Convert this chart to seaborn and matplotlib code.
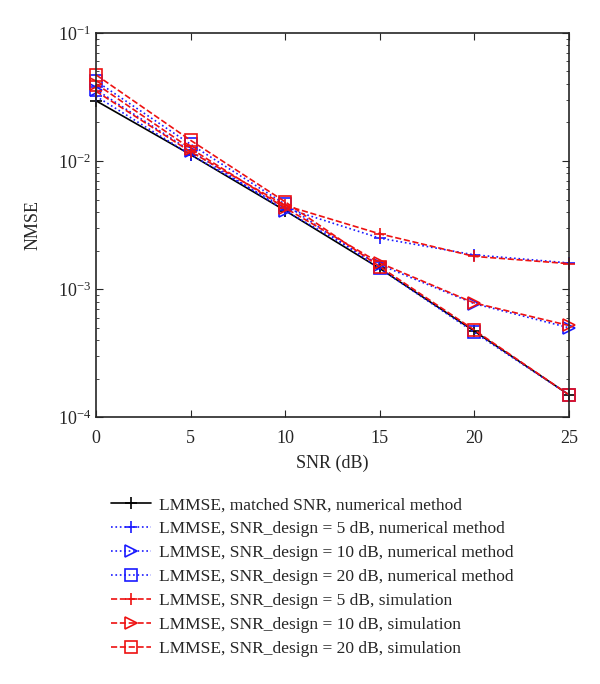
import pandas as pd
import matplotlib
matplotlib.use('Agg')
import matplotlib.pyplot as plt
import seaborn as sns

# SNR points (dB)
snr = [0, 5, 10, 15, 20, 25]

# NMSE values
matched = [0.0295, 0.0112, 0.0041, 0.00145, 0.00047, 0.00015]
num_5db = [0.032, 0.0112, 0.0043, 0.0025, 0.00185, 0.0016]
num_10db = [0.036, 0.0120, 0.0041, 0.00155, 0.00077, 0.00050]
num_20db = [0.042, 0.0135, 0.0046, 0.00145, 0.00046, 0.00015]
sim_5db = [0.035, 0.0118, 0.0045, 0.0027, 0.0018, 0.00158]
sim_10db = [0.040, 0.0125, 0.0043, 0.0016, 0.00078, 0.00052]
sim_20db = [0.047, 0.0145, 0.0048, 0.0015, 0.00048, 0.00015]

labels = [
    'LMMSE, matched SNR, numerical method',
    'LMMSE, SNR_design = 5 dB, numerical method',
    'LMMSE, SNR_design = 10 dB, numerical method',
    'LMMSE, SNR_design = 20 dB, numerical method',
    'LMMSE, SNR_design = 5 dB, simulation',
    'LMMSE, SNR_design = 10 dB, simulation',
    'LMMSE, SNR_design = 20 dB, simulation',
]
series = [matched, num_5db, num_10db, num_20db, sim_5db, sim_10db, sim_20db]

# style per series: color, linestyle, marker
styles = [
    ('black', '-', '+'),
    ('#1a1aff', ':', '+'),
    ('#1a1aff', ':', '>'),
    ('#1a1aff', ':', 's'),
    ('#ee1111', '--', '+'),
    ('#ee1111', '--', '>'),
    ('#ee1111', '--', 's'),
]

sns.set_style('ticks')
plt.rcParams['font.family'] = ['Liberation Serif', 'DejaVu Serif']
plt.rcParams['mathtext.fontset'] = 'stix'

fig = plt.figure(figsize=(6, 6.84), dpi=100)
ax = fig.add_axes([0.16, 0.39, 0.788, 0.562])

for lab, vals, (c, ls, m) in zip(labels, series, styles):
    df = pd.DataFrame({'SNR': snr, 'NMSE': vals})
    sns.lineplot(data=df, x='SNR', y='NMSE', ax=ax, color=c, linestyle=ls,
                 marker=m, markersize=8, mfc='none', mec=c, mew=1.2,
                 linewidth=1.2, label=lab, legend=False, clip_on=False)

ax.set_yscale('log')
ax.set_xlim(0, 25)
ax.set_ylim(1e-4, 1e-1)
ax.set_xticks(snr)
ax.set_xlabel('SNR (dB)', fontsize=13, labelpad=6)
ax.set_ylabel('NMSE', fontsize=13, labelpad=12)
ax.tick_params(which='both', direction='in', top=True, right=True, labelsize=13)
ax.tick_params(axis='x', pad=9)
ax.tick_params(which='major', length=5)
ax.tick_params(which='minor', length=2.5)
for s in ax.spines.values():
    s.set_linewidth(1.2)

handles, labs = ax.get_legend_handles_labels()
fig.legend(handles, labs, loc='upper left', bbox_to_anchor=(0.185, 0.273),
           frameon=False, fontsize=12.5, handlelength=2.3, handletextpad=0.45,
           labelspacing=0.45, borderaxespad=0, borderpad=0)

fig.savefig('out.png', dpi=100)
